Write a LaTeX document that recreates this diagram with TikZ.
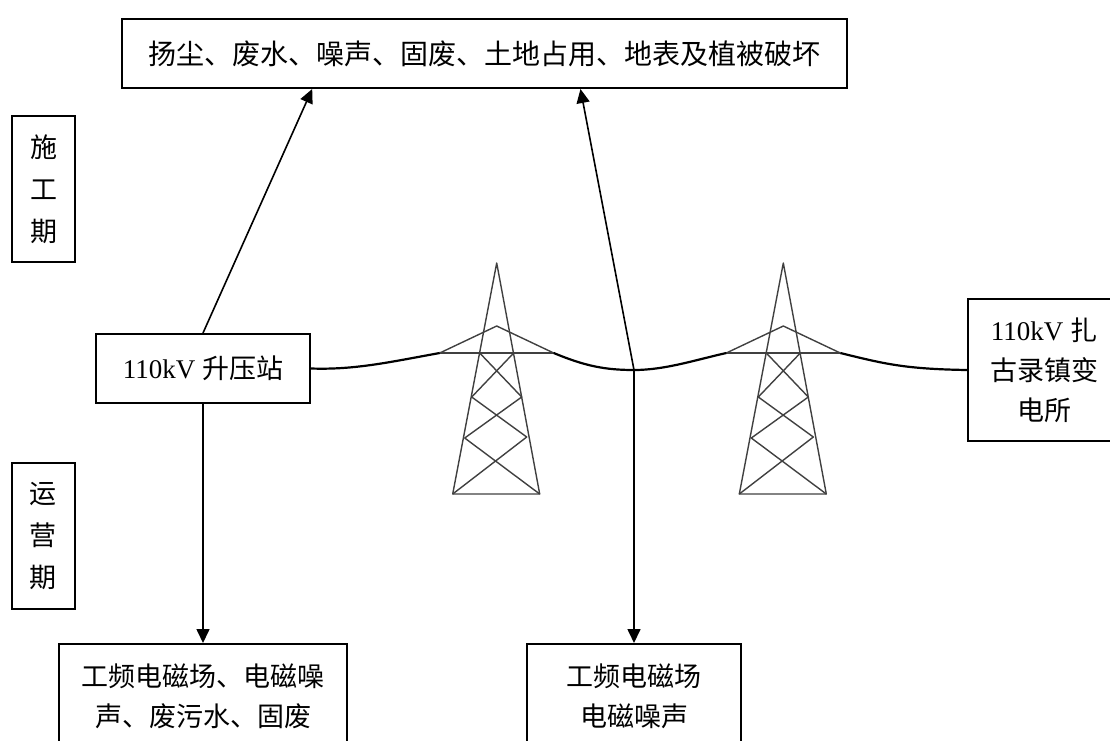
\documentclass[tikz,border=0pt]{standalone}
\usepackage{fontspec}
\setmainfont{Liberation Serif}
\newfontfamily\cjk{Noto Sans CJK SC}
\usetikzlibrary{arrows.meta}
\usetikzlibrary{calc}

\begin{document}
\begin{tikzpicture}[x=1pt, y=-1pt,
        srcbox/.style={draw, line width=2pt, inner sep=0pt, align=center,
            font=\fontsize{27}{42}\selectfont},
        stagebox/.style={srcbox, minimum width=63, minimum height=146,
            font=\cjk\fontsize{27}{42}\selectfont},
        effbox/.style={draw, line width=2pt, anchor=north, inner xsep=0pt,
            inner ysep=19.5pt, align=center, font=\cjk\fontsize{27}{40}\selectfont},
        arr/.style={line width=1.6pt, -{Triangle[length=14pt,width=13pt]}},
        wire/.style={line width=2.2pt},
        tower/.style={draw=black!75, line width=1.4pt, line join=round}]
        \useasboundingbox (0, 0) rectangle (1110, 740);
        \clip (0, 0) rectangle (1110, 740);

        \node[srcbox, minimum width=725, minimum height=69,
            font=\cjk\fontsize{28}{42}\selectfont] (top) at (484.5, 53.5)
            {扬尘、废水、噪声、固废、土地占用、地表及植被破坏};
        \node[stagebox] (sgq) at (43.5, 189) {施\\工\\期};
        \node[stagebox] (yyq) at (43, 536) {运\\营\\期};
        \node[srcbox, minimum width=214, minimum height=69] (stn) at (203, 368.5)
            {110kV {\cjk 升压站}};
        \node[srcbox, minimum width=152, minimum height=142,
            font=\fontsize{27}{40}\selectfont] (sub) at (1044, 370)
            {110kV {\cjk 扎}\\{\cjk 古录镇变}\\{\cjk 电所}};
        \node[effbox, minimum width=288] (opn) at (203, 643)
            {工频电磁场、电磁噪\\声、废污水、固废};
        \node[effbox, minimum width=214] (line) at (634, 643)
            {工频电磁场\\电磁噪声};

        \foreach \tx/\tn in {496.7/ta, 783.3/tb} {
            \begin{scope}[shift={(\tx, 0)}]
                \coordinate (\tn-l) at (-57, 353);
                \coordinate (\tn-r) at (57, 353);
                \draw[tower] (-44, 494) -- (0, 263) -- (43, 494) -- cycle;
                \draw[tower] (\tn-l) -- (\tn-r);
                \draw[tower] (\tn-l) -- (0, 326) -- (\tn-r);
                \draw[tower] (-17, 353) -- (25, 397) -- (-32, 438) -- (43, 494);
                \draw[tower] (17, 353) -- (-25, 397) -- (30, 437) -- (-44, 494);
            \end{scope}
        }

        \coordinate (jn) at (634, 370);
        \draw[wire] (stn.east) .. controls (355, 370) and (390, 362) .. (ta-l);
        \draw[wire] (ta-r) .. controls (585, 366) and (605, 370) .. (jn)
            .. controls (665, 370) and (695, 360) .. (tb-l);
        \draw[wire] (tb-r) .. controls (885, 364) and (905, 369) .. (sub.west);

        \draw[arr] (stn.north) -- ($(top.south west)!0.263!(top.south east)$);
        \draw[arr] (jn) -- ($(top.south west)!0.632!(top.south east)$);
        \draw[arr] (jn) -- (line.north);
        \draw[arr] (stn.south) -- (opn.north);
    \end{tikzpicture}
\end{document}
